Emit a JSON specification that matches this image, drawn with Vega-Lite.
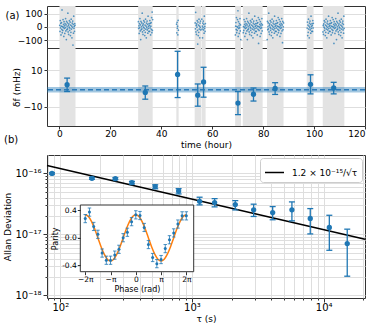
{
"$schema": "https://vega.github.io/schema/vega-lite/v6.json",
"padding": {"left": 3, "top": 5, "right": 0, "bottom": 2},
"background": "white",
"config": {
 "font": "DejaVu Sans",
 "view": {"stroke": "#333", "strokeWidth": 1},
 "axis": {"labelFont": "DejaVu Sans", "titleFont": "DejaVu Sans", "labelFontSize": 9, "titleFontSize": 9, "titleFontWeight": "normal", "labelColor": "black", "titleColor": "black", "tickColor": "#333", "domain": false, "gridColor": "#dedede", "tickSize": 3, "titlePadding": 2},
 "axisX": {"labelPadding": 0.5},
 "axisY": {"labelPadding": 2},
 "legend": {"labelFont": "DejaVu Sans", "labelFontSize": 9, "labelColor": "black"},
 "title": {"font": "DejaVu Sans", "fontSize": 10, "fontWeight": "normal", "color": "black"}
},
"datasets": {
 "bands": [{"start":0,"end":6.3},{"start":30.9,"end":36.6},{"start":45.9,"end":46.8},{"start":53.1,"end":55.6},{"start":55.8,"end":57.4},{"start":69.0,"end":71.3},{"start":72.0,"end":79.8},{"start":81.5,"end":88.0},{"start":97.1,"end":99.8},{"start":103.4,"end":111.9}],
 "scatter": [
{"t":0.1,"v":12},{"t":0.2,"v":-35},{"t":0.3,"v":48},{"t":0.4,"v":-8},{"t":0.5,"v":27},{"t":0.6,"v":-61},{"t":0.7,"v":5},{"t":0.8,"v":33},{"t":0.9,"v":-19},{"t":1.0,"v":128},{"t":1.1,"v":-44},{"t":1.2,"v":2},{"t":1.3,"v":-27},{"t":1.4,"v":55},{"t":1.5,"v":-3},{"t":1.6,"v":18},{"t":1.7,"v":-72},{"t":1.8,"v":39},{"t":1.9,"v":-12},{"t":2.0,"v":8},{"t":2.1,"v":-50},{"t":2.2,"v":24},{"t":2.3,"v":-6},{"t":2.4,"v":63},{"t":2.5,"v":-31},{"t":2.6,"v":15},{"t":2.7,"v":-96},{"t":2.8,"v":41},{"t":2.9,"v":-21},{"t":3.0,"v":0},{"t":3.1,"v":30},{"t":3.2,"v":-15},{"t":3.3,"v":104},{"t":3.4,"v":-38},{"t":3.5,"v":11},{"t":3.6,"v":-57},{"t":3.7,"v":22},{"t":3.8,"v":-2},{"t":3.9,"v":47},{"t":4.0,"v":-26},{"t":4.1,"v":-9},{"t":4.2,"v":36},{"t":4.3,"v":-66},{"t":4.4,"v":14},{"t":4.5,"v":-41},{"t":4.6,"v":58},{"t":4.7,"v":-17},{"t":4.8,"v":6},{"t":4.9,"v":-83},{"t":5.0,"v":29},{"t":5.1,"v":-4},{"t":5.2,"v":44},{"t":5.3,"v":-138},{"t":5.4,"v":19},{"t":5.5,"v":-48},{"t":5.6,"v":81},{"t":5.7,"v":-11},{"t":5.8,"v":3},{"t":5.9,"v":-34},{"t":6.0,"v":25},{"t":6.1,"v":12},
{"t":31.0,"v":39},{"t":31.1,"v":-12},{"t":31.2,"v":8},{"t":31.3,"v":-50},{"t":31.4,"v":24},{"t":31.5,"v":-6},{"t":31.6,"v":63},{"t":31.7,"v":-31},{"t":31.8,"v":15},{"t":31.9,"v":-96},{"t":32.0,"v":41},{"t":32.1,"v":-21},{"t":32.2,"v":0},{"t":32.3,"v":30},{"t":32.4,"v":-15},{"t":32.5,"v":104},{"t":32.6,"v":-38},{"t":32.7,"v":11},{"t":32.8,"v":-57},{"t":32.9,"v":22},{"t":33.0,"v":-2},{"t":33.1,"v":47},{"t":33.2,"v":-26},{"t":33.3,"v":-9},{"t":33.4,"v":36},{"t":33.5,"v":-66},{"t":33.6,"v":14},{"t":33.7,"v":-41},{"t":33.8,"v":58},{"t":33.9,"v":-17},{"t":34.0,"v":6},{"t":34.1,"v":-83},{"t":34.2,"v":29},{"t":34.3,"v":-4},{"t":34.4,"v":44},{"t":34.5,"v":-23},{"t":34.6,"v":19},{"t":34.7,"v":-48},{"t":34.8,"v":81},{"t":34.9,"v":-11},{"t":35.0,"v":3},{"t":35.1,"v":-34},{"t":35.2,"v":25},{"t":35.3,"v":12},{"t":35.4,"v":-35},{"t":35.5,"v":48},{"t":35.6,"v":-8},{"t":35.7,"v":27},{"t":35.8,"v":-61},{"t":35.9,"v":5},{"t":36.0,"v":33},{"t":36.1,"v":-19},{"t":36.2,"v":70},{"t":36.3,"v":-44},{"t":36.4,"v":112},{"t":36.5,"v":-27},{"t":36.6,"v":55},
{"t":46.0,"v":20},{"t":46.1,"v":-45},{"t":46.2,"v":35},{"t":46.3,"v":-10},{"t":46.4,"v":5},{"t":46.5,"v":-60},{"t":46.6,"v":50},{"t":46.7,"v":-25},
{"t":53.3,"v":30},{"t":53.4,"v":-15},{"t":53.5,"v":110},{"t":53.6,"v":-38},{"t":53.7,"v":11},{"t":53.8,"v":-57},{"t":53.9,"v":22},{"t":54.0,"v":-2},{"t":54.1,"v":47},{"t":54.2,"v":-26},{"t":54.3,"v":-130},{"t":54.4,"v":36},{"t":54.5,"v":-66},{"t":54.6,"v":14},{"t":54.7,"v":-41},{"t":54.8,"v":58},{"t":54.9,"v":-17},{"t":55.0,"v":6},{"t":55.1,"v":-83},{"t":55.2,"v":29},{"t":55.3,"v":-4},{"t":55.4,"v":44},{"t":55.5,"v":-23},
{"t":55.9,"v":58},{"t":56.0,"v":-17},{"t":56.1,"v":6},{"t":56.2,"v":-83},{"t":56.3,"v":29},{"t":56.4,"v":-4},{"t":56.5,"v":44},{"t":56.6,"v":-23},{"t":56.7,"v":19},{"t":56.8,"v":-48},{"t":56.9,"v":81},{"t":57.0,"v":-11},{"t":57.1,"v":3},{"t":57.2,"v":-34},{"t":57.3,"v":25},
{"t":69.1,"v":-61},{"t":69.2,"v":5},{"t":69.3,"v":33},{"t":69.4,"v":-19},{"t":69.5,"v":70},{"t":69.6,"v":-44},{"t":69.7,"v":2},{"t":69.8,"v":-27},{"t":69.9,"v":55},{"t":70.0,"v":-3},{"t":70.1,"v":122},{"t":70.2,"v":-72},{"t":70.3,"v":39},{"t":70.4,"v":-12},{"t":70.5,"v":8},{"t":70.6,"v":-50},{"t":70.7,"v":24},{"t":70.8,"v":-6},{"t":70.9,"v":63},{"t":71.0,"v":-31},{"t":71.1,"v":15},{"t":71.2,"v":-96},
{"t":72.2,"v":-44},{"t":72.3,"v":2},{"t":72.4,"v":-27},{"t":72.5,"v":55},{"t":72.6,"v":-3},{"t":72.7,"v":18},{"t":72.8,"v":-72},{"t":72.9,"v":39},{"t":73.0,"v":-12},{"t":73.1,"v":8},{"t":73.2,"v":-50},{"t":73.3,"v":24},{"t":73.4,"v":-6},{"t":73.5,"v":63},{"t":73.6,"v":-31},{"t":73.7,"v":15},{"t":73.8,"v":-96},{"t":73.9,"v":41},{"t":74.0,"v":-21},{"t":74.1,"v":0},{"t":74.2,"v":30},{"t":74.3,"v":-15},{"t":74.4,"v":104},{"t":74.5,"v":-38},{"t":74.6,"v":11},{"t":74.7,"v":-57},{"t":74.8,"v":22},{"t":74.9,"v":-2},{"t":75.0,"v":47},{"t":75.1,"v":-26},{"t":75.2,"v":-9},{"t":75.3,"v":36},{"t":75.4,"v":-66},{"t":75.5,"v":14},{"t":75.6,"v":-41},{"t":75.7,"v":58},{"t":75.8,"v":-17},{"t":75.9,"v":6},{"t":76.0,"v":-83},{"t":76.1,"v":29},{"t":76.2,"v":-4},{"t":76.3,"v":44},{"t":76.4,"v":-23},{"t":76.5,"v":19},{"t":76.6,"v":-48},{"t":76.7,"v":81},{"t":76.8,"v":-11},{"t":76.9,"v":3},{"t":77.0,"v":-34},{"t":77.1,"v":25},{"t":77.2,"v":12},{"t":77.3,"v":-35},{"t":77.4,"v":48},{"t":77.5,"v":-8},{"t":77.6,"v":27},{"t":77.7,"v":-61},{"t":77.8,"v":5},{"t":77.9,"v":33},{"t":78.0,"v":-19},{"t":78.1,"v":70},{"t":78.2,"v":-125},{"t":78.3,"v":2},{"t":78.4,"v":-27},{"t":78.5,"v":55},{"t":78.6,"v":-3},{"t":78.7,"v":18},{"t":78.8,"v":-72},{"t":78.9,"v":39},{"t":79.0,"v":-12},{"t":79.1,"v":8},{"t":79.2,"v":-50},{"t":79.3,"v":24},{"t":79.4,"v":-6},{"t":79.5,"v":63},{"t":79.6,"v":-31},{"t":79.7,"v":15},
{"t":81.6,"v":-96},{"t":81.7,"v":41},{"t":81.8,"v":-21},{"t":81.9,"v":0},{"t":82.0,"v":30},{"t":82.1,"v":-15},{"t":82.2,"v":104},{"t":82.3,"v":-38},{"t":82.4,"v":11},{"t":82.5,"v":-57},{"t":82.6,"v":22},{"t":82.7,"v":-2},{"t":82.8,"v":47},{"t":82.9,"v":-26},{"t":83.0,"v":-9},{"t":83.1,"v":36},{"t":83.2,"v":-66},{"t":83.3,"v":14},{"t":83.4,"v":-41},{"t":83.5,"v":58},{"t":83.6,"v":-17},{"t":83.7,"v":6},{"t":83.8,"v":-83},{"t":83.9,"v":29},{"t":84.0,"v":-4},{"t":84.1,"v":44},{"t":84.2,"v":-23},{"t":84.3,"v":19},{"t":84.4,"v":-48},{"t":84.5,"v":81},{"t":84.6,"v":-11},{"t":84.7,"v":3},{"t":84.8,"v":-34},{"t":84.9,"v":25},{"t":85.0,"v":12},{"t":85.1,"v":-35},{"t":85.2,"v":48},{"t":85.3,"v":-8},{"t":85.4,"v":27},{"t":85.5,"v":-61},{"t":85.6,"v":5},{"t":85.7,"v":33},{"t":85.8,"v":-19},{"t":85.9,"v":70},{"t":86.0,"v":-44},{"t":86.1,"v":2},{"t":86.2,"v":-27},{"t":86.3,"v":55},{"t":86.4,"v":-3},{"t":86.5,"v":18},{"t":86.6,"v":-72},{"t":86.7,"v":39},{"t":86.8,"v":-12},{"t":86.9,"v":8},{"t":87.0,"v":-50},{"t":87.1,"v":24},{"t":87.2,"v":-6},{"t":87.3,"v":63},{"t":87.4,"v":-31},{"t":87.5,"v":15},{"t":87.6,"v":-120},{"t":87.7,"v":41},{"t":87.8,"v":-21},{"t":87.9,"v":0},{"t":88.0,"v":30},
{"t":97.3,"v":-9},{"t":97.4,"v":36},{"t":97.5,"v":-66},{"t":97.6,"v":14},{"t":97.7,"v":-41},{"t":97.8,"v":58},{"t":97.9,"v":-17},{"t":98.0,"v":6},{"t":98.1,"v":-83},{"t":98.2,"v":29},{"t":98.3,"v":-4},{"t":98.4,"v":44},{"t":98.5,"v":-23},{"t":98.6,"v":19},{"t":98.7,"v":-48},{"t":98.8,"v":81},{"t":98.9,"v":-11},{"t":99.0,"v":3},{"t":99.1,"v":-34},{"t":99.2,"v":25},{"t":99.3,"v":12},{"t":99.4,"v":-35},{"t":99.5,"v":48},{"t":99.6,"v":-8},{"t":99.7,"v":27},
{"t":103.5,"v":-38},{"t":103.6,"v":11},{"t":103.7,"v":-57},{"t":103.8,"v":22},{"t":103.9,"v":-2},{"t":104.0,"v":47},{"t":104.1,"v":-26},{"t":104.2,"v":-9},{"t":104.3,"v":36},{"t":104.4,"v":-66},{"t":104.5,"v":14},{"t":104.6,"v":-41},{"t":104.7,"v":58},{"t":104.8,"v":-17},{"t":104.9,"v":6},{"t":105.0,"v":-83},{"t":105.1,"v":29},{"t":105.2,"v":-4},{"t":105.3,"v":44},{"t":105.4,"v":-23},{"t":105.5,"v":19},{"t":105.6,"v":-48},{"t":105.7,"v":81},{"t":105.8,"v":-11},{"t":105.9,"v":3},{"t":106.0,"v":-34},{"t":106.1,"v":25},{"t":106.2,"v":12},{"t":106.3,"v":-35},{"t":106.4,"v":48},{"t":106.5,"v":-8},{"t":106.6,"v":27},{"t":106.7,"v":-61},{"t":106.8,"v":5},{"t":106.9,"v":33},{"t":107.0,"v":-19},{"t":107.1,"v":70},{"t":107.2,"v":-44},{"t":107.3,"v":2},{"t":107.4,"v":-27},{"t":107.5,"v":55},{"t":107.6,"v":-3},{"t":107.7,"v":18},{"t":107.8,"v":-125},{"t":107.9,"v":39},{"t":108.0,"v":-12},{"t":108.1,"v":8},{"t":108.2,"v":-50},{"t":108.3,"v":24},{"t":108.4,"v":-6},{"t":108.5,"v":63},{"t":108.6,"v":-31},{"t":108.7,"v":15},{"t":108.8,"v":-96},{"t":108.9,"v":41},{"t":109.0,"v":-21},{"t":109.1,"v":0},{"t":109.2,"v":30},{"t":109.3,"v":-15},{"t":109.4,"v":104},{"t":109.5,"v":-38},{"t":109.6,"v":11},{"t":109.7,"v":-57},{"t":109.8,"v":22},{"t":109.9,"v":-2},{"t":110.0,"v":47},{"t":110.1,"v":-26},{"t":110.2,"v":-9},{"t":110.3,"v":36},{"t":110.4,"v":-66},{"t":110.5,"v":14},{"t":110.6,"v":-41},{"t":110.7,"v":58},{"t":110.8,"v":-17},{"t":110.9,"v":6},{"t":111.0,"v":-83},{"t":111.1,"v":29},{"t":111.2,"v":-4},{"t":111.3,"v":44},{"t":111.4,"v":-23},{"t":111.5,"v":19},{"t":111.6,"v":-48},{"t":111.7,"v":81},{"t":111.8,"v":-11}
 ],
 "mean": [{"mean": -0.8, "lo": -2.3, "hi": 0.7}],
 "shifts": [
  {"t":3.0,"v":2.0,"lo":-1.7,"hi":5.6},{"t":33.7,"v":-2.2,"lo":-5.9,"hi":1.3},{"t":46.4,"v":7.6,"lo":-5.0,"hi":20.2},{"t":54.3,"v":-3.7,"lo":-9.7,"hi":2.4},{"t":56.6,"v":3.5,"lo":-4.8,"hi":11.5},{"t":70.1,"v":-8.0,"lo":-14.3,"hi":-1.7},{"t":76.2,"v":-3.2,"lo":-6.9,"hi":0.2},{"t":84.7,"v":0.0,"lo":-3.3,"hi":3.1},{"t":98.6,"v":2.2,"lo":-3.0,"hi":7.4},{"t":107.7,"v":0.2,"lo":-3.0,"hi":3.3}
 ],
 "adev": [
  {"tau":86.5,"adev":1.0e-16,"lo":0.97e-16,"hi":1.03e-16},{"tau":174,"adev":8.3e-17,"lo":8.0e-17,"hi":8.6e-17},{"tau":262,"adev":8.2e-17,"lo":7.9e-17,"hi":8.5e-17},{"tau":350,"adev":7.05e-17,"lo":6.7e-17,"hi":7.4e-17},{"tau":526,"adev":6.07e-17,"lo":5.6e-17,"hi":6.5e-17},{"tau":792,"adev":5.15e-17,"lo":4.61e-17,"hi":5.63e-17},{"tau":1143,"adev":3.49e-17,"lo":3.05e-17,"hi":4.07e-17},{"tau":1486,"adev":3.32e-17,"lo":2.83e-17,"hi":3.86e-17},{"tau":2133,"adev":3.08e-17,"lo":2.52e-17,"hi":3.58e-17},{"tau":2940,"adev":2.53e-17,"lo":1.97e-17,"hi":3.13e-17},{"tau":4100,"adev":2.28e-17,"lo":1.74e-17,"hi":2.86e-17},{"tau":5740,"adev":2.53e-17,"lo":1.67e-17,"hi":3.41e-17},{"tau":7910,"adev":1.83e-17,"lo":1.02e-17,"hi":2.65e-17},{"tau":11040,"adev":1.3e-17,"lo":5.5e-18,"hi":2.06e-17},{"tau":15100,"adev":7.1e-18,"lo":2.07e-18,"hi":1.22e-17}
 ],
 "fitline": [{"tau":79.3,"adev":1.3475e-16,"label":"1.2 × 10⁻¹⁵/√τ"},{"tau":20600,"adev":8.361e-18,"label":"1.2 × 10⁻¹⁵/√τ"}],
 "inset": [{"x0":-6.9,"x1":7.2,"y0":-0.498,"y1":0.479}],
 "parity": [
  {"ph":-6.283,"p":0.28,"lo":0.22,"hi":0.34},{"ph":-5.760,"p":0.375,"lo":0.315,"hi":0.435},{"ph":-5.236,"p":0.165,"lo":0.105,"hi":0.225},{"ph":-4.712,"p":0.05,"lo":-0.01,"hi":0.11},{"ph":-4.189,"p":-0.225,"lo":-0.285,"hi":-0.165},{"ph":-3.665,"p":-0.33,"lo":-0.39,"hi":-0.27},{"ph":-3.142,"p":-0.33,"lo":-0.39,"hi":-0.27},{"ph":-2.618,"p":-0.255,"lo":-0.315,"hi":-0.195},{"ph":-2.094,"p":-0.17,"lo":-0.23,"hi":-0.11},{"ph":-1.571,"p":0.0,"lo":-0.06,"hi":0.06},{"ph":-1.047,"p":0.08,"lo":0.02,"hi":0.14},{"ph":-0.524,"p":0.235,"lo":0.175,"hi":0.295},{"ph":0,"p":0.335,"lo":0.275,"hi":0.395},{"ph":0.524,"p":0.325,"lo":0.265,"hi":0.385},{"ph":1.047,"p":0.15,"lo":0.09,"hi":0.21},{"ph":1.571,"p":-0.1,"lo":-0.16,"hi":-0.04},{"ph":2.094,"p":-0.29,"lo":-0.35,"hi":-0.23},{"ph":2.618,"p":-0.38,"lo":-0.44,"hi":-0.32},{"ph":3.142,"p":-0.32,"lo":-0.38,"hi":-0.26},{"ph":3.665,"p":-0.16,"lo":-0.22,"hi":-0.1},{"ph":4.189,"p":-0.03,"lo":-0.09,"hi":0.03},{"ph":4.712,"p":0.07,"lo":0.01,"hi":0.13},{"ph":5.236,"p":0.2,"lo":0.14,"hi":0.26},{"ph":5.760,"p":0.32,"lo":0.26,"hi":0.38},{"ph":6.283,"p":0.32,"lo":0.26,"hi":0.38}
 ],
 "cosfit": [
  {"ph":-6.283,"p":0.335},{"ph":-5.890,"p":0.309},{"ph":-5.498,"p":0.236},{"ph":-5.105,"p":0.127},{"ph":-4.712,"p":-0.003},{"ph":-4.320,"p":-0.132},{"ph":-3.927,"p":-0.241},{"ph":-3.534,"p":-0.314},{"ph":-3.142,"p":-0.34},{"ph":-2.749,"p":-0.314},{"ph":-2.356,"p":-0.241},{"ph":-1.963,"p":-0.132},{"ph":-1.571,"p":-0.003},{"ph":-1.178,"p":0.127},{"ph":-0.785,"p":0.236},{"ph":-0.393,"p":0.309},{"ph":0,"p":0.335},{"ph":0.393,"p":0.309},{"ph":0.785,"p":0.236},{"ph":1.178,"p":0.127},{"ph":1.571,"p":-0.003},{"ph":1.963,"p":-0.132},{"ph":2.356,"p":-0.241},{"ph":2.749,"p":-0.314},{"ph":3.142,"p":-0.34},{"ph":3.534,"p":-0.314},{"ph":3.927,"p":-0.241},{"ph":4.320,"p":-0.132},{"ph":4.712,"p":-0.003},{"ph":5.105,"p":0.127},{"ph":5.498,"p":0.236},{"ph":5.890,"p":0.309},{"ph":6.283,"p":0.335}
 ]
},
"spacing": -16,
"resolve": {"legend": {"color": "independent"}},
"vconcat": [
 {
  "bounds": "flush",
  "spacing": 0,
  "vconcat": [
   {
    "width": 318, "height": 42,
    "layer": [
     {"data": {"name": "bands"}, "mark": {"type": "rect", "color": "#e3e3e3"},
      "encoding": {
       "x": {"field": "start", "type": "quantitative", "title": null, "scale": {"domain": [-4.9, 120], "nice": false, "zero": false}, "axis": {"labels": false, "ticks": false, "grid": false, "title": null}},
       "x2": {"field": "end"}}},
     {"data": {"name": "scatter"}, "mark": {"type": "circle", "size": 3, "opacity": 0.75, "color": "#1f77b4", "clip": true},
      "encoding": {
       "x": {"field": "t", "type": "quantitative", "title": null},
       "y": {"field": "v", "type": "quantitative", "scale": {"domain": [-160, 158], "nice": false}, "axis": {"values": [-100, 0, 100], "grid": true, "title": "(a)", "titleAngle": 0, "titleX": -42, "titleY": 9, "titleAlign": "left", "titleBaseline": "middle", "titleFontSize": 10}}}}
    ]
   },
   {
    "width": 318, "height": 78,
    "layer": [
     {"data": {"name": "bands"}, "mark": {"type": "rect", "color": "#e3e3e3"},
      "encoding": {
       "x": {"field": "start", "type": "quantitative", "title": "time (hour)", "scale": {"domain": [-4.9, 120], "nice": false, "zero": false}, "axis": {"values": [0, 20, 40, 60, 80, 100, 120], "grid": false, "title": "time (hour)"}},
       "x2": {"field": "end"}}},
     {"data": {"name": "mean"}, "mark": {"type": "rect", "color": "#1f77b4", "opacity": 0.42},
      "encoding": {
       "y": {"field": "lo", "type": "quantitative", "title": "δf (mHz)", "scale": {"domain": [-20.5, 22], "nice": false, "zero": false}, "axis": {"values": [-10, 0, 10], "grid": true, "title": "δf (mHz)"}},
       "y2": {"field": "hi"}}},
     {"data": {"name": "mean"}, "mark": {"type": "rule", "color": "#2b7bba", "strokeWidth": 1.5, "strokeDash": [5, 3]},
      "encoding": {"y": {"field": "mean", "type": "quantitative", "title": "δf (mHz)"}}},
     {"data": {"name": "shifts"}, "mark": {"type": "rule", "color": "#1f77b4", "strokeWidth": 1.3},
      "encoding": {"x": {"field": "t", "type": "quantitative", "title": "time (hour)"}, "y": {"field": "lo", "type": "quantitative", "title": "δf (mHz)"}, "y2": {"field": "hi"}}},
     {"data": {"name": "shifts"}, "mark": {"type": "tick", "orient": "horizontal", "size": 6, "thickness": 1.3, "color": "#1f77b4", "opacity": 1},
      "encoding": {"x": {"field": "t", "type": "quantitative", "title": "time (hour)"}, "y": {"field": "lo", "type": "quantitative", "title": "δf (mHz)"}}},
     {"data": {"name": "shifts"}, "mark": {"type": "tick", "orient": "horizontal", "size": 6, "thickness": 1.3, "color": "#1f77b4", "opacity": 1},
      "encoding": {"x": {"field": "t", "type": "quantitative", "title": "time (hour)"}, "y": {"field": "hi", "type": "quantitative", "title": "δf (mHz)"}}},
     {"data": {"name": "shifts"}, "mark": {"type": "circle", "size": 28, "opacity": 1, "color": "#1f77b4"},
      "encoding": {"x": {"field": "t", "type": "quantitative", "title": "time (hour)"}, "y": {"field": "v", "type": "quantitative", "title": "δf (mHz)"}}}
    ]
   }
  ]
 },
 {
  "width": 318, "height": 143,
  "title": {"text": "(b)", "anchor": "start", "frame": "bounds", "offset": 10, "fontSize": 10},
  "resolve": {"scale": {"x": "independent", "y": "independent"}, "axis": {"x": "independent", "y": "independent"}},
  "layer": [
   {
    "layer": [
     {"data": {"name": "fitline"}, "mark": {"type": "line", "color": "black", "strokeWidth": 1.5},
      "encoding": {
       "x": {"field": "tau", "type": "quantitative", "title": "τ (s)", "scale": {"type": "log", "domain": [79.3, 20600], "nice": false},
        "axis": {"orient": "bottom", "title": "τ (s)", "grid": true, "values": [80, 90, 100, 200, 300, 400, 500, 600, 700, 800, 900, 1000, 2000, 3000, 4000, 5000, 6000, 7000, 8000, 9000, 10000, 20000], "labelExpr": "datum.value == 100 ? '10²' : datum.value == 1000 ? '10³' : datum.value == 10000 ? '10⁴' : ''", "labelFontSize": 10, "tickSize": {"condition": {"test": "datum.value == 100 || datum.value == 1000 || datum.value == 10000", "value": 4}, "value": 2}, "zindex": 0}},
       "y": {"field": "adev", "type": "quantitative", "title": "Allan Deviation", "scale": {"type": "log", "domain": [9.1e-19, 2.0e-16], "nice": false},
        "axis": {"orient": "left", "title": "Allan Deviation", "grid": true, "values": [1e-18, 2e-18, 3e-18, 4e-18, 5e-18, 6e-18, 7e-18, 8e-18, 9e-18, 1e-17, 2e-17, 3e-17, 4e-17, 5e-17, 6e-17, 7e-17, 8e-17, 9e-17, 1e-16], "labelExpr": "datum.value == 1e-16 ? '10⁻¹⁶' : datum.value == 1e-17 ? '10⁻¹⁷' : datum.value == 1e-18 ? '10⁻¹⁸' : ''", "labelFontSize": 10, "tickSize": {"condition": {"test": "datum.value == 1e-16 || datum.value == 1e-17 || datum.value == 1e-18", "value": 4}, "value": 2}, "zindex": 0}},
       "color": {"field": "label", "type": "nominal", "scale": {"range": ["black"]}, "legend": {"orient": "top-right", "title": null, "fillColor": "white", "strokeColor": "#cccccc", "padding": 4, "cornerRadius": 3, "symbolType": "stroke", "symbolStrokeWidth": 1.5, "symbolSize": 360, "labelOffset": 7, "offset": 3, "labelFontSize": 9}}}},
     {"data": {"name": "adev"}, "mark": {"type": "rule", "color": "#1f77b4", "strokeWidth": 1.3},
      "encoding": {"x": {"field": "tau", "type": "quantitative", "title": "τ (s)"}, "y": {"field": "lo", "type": "quantitative", "title": "Allan Deviation"}, "y2": {"field": "hi"}}},
     {"data": {"name": "adev"}, "mark": {"type": "tick", "orient": "horizontal", "size": 6, "thickness": 1.3, "color": "#1f77b4", "opacity": 1},
      "encoding": {"x": {"field": "tau", "type": "quantitative", "title": "τ (s)"}, "y": {"field": "lo", "type": "quantitative", "title": "Allan Deviation"}}},
     {"data": {"name": "adev"}, "mark": {"type": "tick", "orient": "horizontal", "size": 6, "thickness": 1.3, "color": "#1f77b4", "opacity": 1},
      "encoding": {"x": {"field": "tau", "type": "quantitative", "title": "τ (s)"}, "y": {"field": "hi", "type": "quantitative", "title": "Allan Deviation"}}},
     {"data": {"name": "adev"}, "mark": {"type": "circle", "size": 28, "opacity": 1, "color": "#1f77b4"},
      "encoding": {"x": {"field": "tau", "type": "quantitative", "title": "τ (s)"}, "y": {"field": "adev", "type": "quantitative", "title": "Allan Deviation"}}}
    ]
   },
   {
    "layer": [
     {"data": {"name": "inset"}, "mark": {"type": "rect", "fill": "white", "stroke": "#333", "strokeWidth": 1},
      "encoding": {
       "x": {"field": "x0", "type": "quantitative", "title": "Phase (rad)", "scale": {"domain": [-6.9, 7.2], "range": [33.3, 146.7], "nice": false, "zero": false},
        "axis": {"orient": "bottom", "offset": -26.3, "title": "Phase (rad)", "grid": false, "values": [-6.283185307179586, -3.141592653589793, 0, 3.141592653589793, 6.283185307179586], "labelExpr": "datum.value < -5 ? '−2π' : datum.value < -2 ? '−π' : datum.value < 1 ? '0' : datum.value < 5 ? 'π' : '2π'", "labelFontSize": 7.5, "titleFontSize": 8, "tickSize": 3, "labelPadding": 1, "titlePadding": 2, "zindex": 3}},
       "x2": {"field": "x1"},
       "y": {"field": "y0", "type": "quantitative", "title": "Parity", "scale": {"domain": [-0.498, 0.479], "range": [116.7, 50], "nice": false, "zero": false},
        "axis": {"orient": "left", "offset": -33.3, "title": "Parity", "grid": false, "values": [-0.4, 0, 0.4], "labelExpr": "datum.value < -0.1 ? '-0.4' : datum.value > 0.1 ? '0.4' : '0.0'", "labelFontSize": 7.5, "titleFontSize": 8, "tickSize": 3, "labelPadding": 1, "titlePadding": 2, "zindex": 3}},
       "y2": {"field": "y1"}}},
     {"data": {"name": "cosfit"}, "mark": {"type": "line", "color": "#ff7f0e", "strokeWidth": 1.5, "interpolate": "monotone"},
      "encoding": {"x": {"field": "ph", "type": "quantitative", "title": "Phase (rad)"}, "y": {"field": "p", "type": "quantitative", "title": "Parity"}}},
     {"data": {"name": "parity"}, "mark": {"type": "rule", "color": "#1f77b4", "strokeWidth": 1, "opacity": 0.8},
      "encoding": {"x": {"field": "ph", "type": "quantitative", "title": "Phase (rad)"}, "y": {"field": "lo", "type": "quantitative", "title": "Parity"}, "y2": {"field": "hi"}}},
     {"data": {"name": "parity"}, "mark": {"type": "tick", "orient": "horizontal", "size": 3.5, "thickness": 1, "color": "#1f77b4", "opacity": 0.8},
      "encoding": {"x": {"field": "ph", "type": "quantitative", "title": "Phase (rad)"}, "y": {"field": "lo", "type": "quantitative", "title": "Parity"}}},
     {"data": {"name": "parity"}, "mark": {"type": "tick", "orient": "horizontal", "size": 3.5, "thickness": 1, "color": "#1f77b4", "opacity": 0.8},
      "encoding": {"x": {"field": "ph", "type": "quantitative", "title": "Phase (rad)"}, "y": {"field": "hi", "type": "quantitative", "title": "Parity"}}},
     {"data": {"name": "parity"}, "mark": {"type": "circle", "size": 9, "opacity": 1, "color": "#1f77b4"},
      "encoding": {"x": {"field": "ph", "type": "quantitative", "title": "Phase (rad)"}, "y": {"field": "p", "type": "quantitative", "title": "Parity"}}}
    ]
   }
  ]
 }
]
}
